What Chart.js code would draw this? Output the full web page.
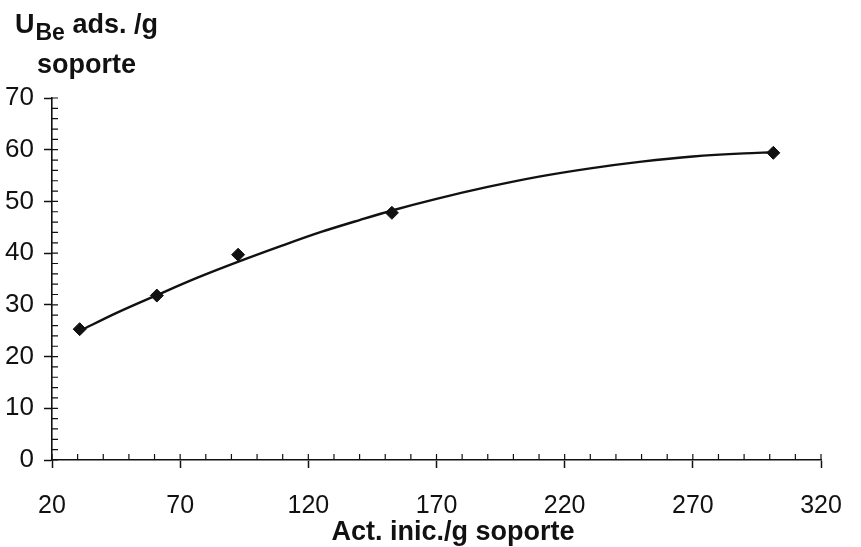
<!DOCTYPE html>
<html>
<head>
<meta charset="utf-8">
<script src="https://cdn.jsdelivr.net/npm/chart.js@4.4.1/dist/chart.umd.min.js"></script>
<style>
    html, body { margin: 0; padding: 0; background: #fff; }
    #chart { display: block; }
</style>
</head>
<body>
<canvas id="chart" width="861" height="547"></canvas>
<script>
// measured points (Act. inic./g soporte vs U_Be ads./g soporte)
const pointX = [30.8, 60.9, 92.6, 152.6, 301.4];
const pointY = [25.3, 31.8, 39.7, 47.8, 59.4];

// trend line
const curveX = [31, 45, 61, 77, 93, 110, 125, 140, 153, 170, 190, 210, 230, 250, 270, 290, 301];
const curveY = [25.0, 28.4, 31.9, 35.3, 38.4, 41.5, 44.1, 46.4, 48.3, 50.5, 52.8, 54.8, 56.4, 57.7, 58.7, 59.3, 59.5];

const xTicks = [20, 70, 120, 170, 220, 270, 320];
const yTicks = [0, 10, 20, 30, 40, 50, 60, 70];

const FONT = '"Liberation Sans", Arial, sans-serif';
const INK = '#111';

const minorTicks = {
    id: 'minorTicks',
    afterDraw(chart) {
        const ctx = chart.ctx;
        const xs = chart.scales.x, ys = chart.scales.y;
        const x0 = xs.left, y0 = ys.bottom;
        ctx.save();
        ctx.strokeStyle = INK;
        ctx.lineWidth = 1.2;
        ctx.beginPath();
        for (let v = 0; v <= 70; v += 2) {
            const py = ys.getPixelForValue(v);
            ctx.moveTo(x0, py);
            ctx.lineTo(x0 + 6, py);
        }
        for (let v = 20; v <= 320; v += 10) {
            const px = xs.getPixelForValue(v);
            ctx.moveTo(px, y0);
            ctx.lineTo(px, y0 - 6);
        }
        ctx.stroke();

        ctx.fillStyle = INK;
        ctx.textBaseline = 'alphabetic';

        // y axis title with subscript
        ctx.font = 'bold 27px ' + FONT;
        ctx.fillText('U', 15, 33);
        let w = ctx.measureText('U').width;
        ctx.font = 'bold 23px ' + FONT;
        ctx.fillText('Be', 15 + w + 1, 40);
        w += ctx.measureText('Be').width + 1;
        ctx.font = 'bold 27px ' + FONT;
        ctx.fillText(' ads. /g', 15 + w, 33);
        ctx.fillText('soporte', 37, 73);

        // x axis title, sits right of centre in the original
        ctx.textAlign = 'center';
        ctx.font = 'bold 27px ' + FONT;
        ctx.fillText('Act. inic./g soporte', 453, 540);
        ctx.restore();
    }
};

new Chart(document.getElementById('chart'), {
    type: 'scatter',
    data: {
        datasets: [
            {
                label: 'ajuste',
                data: curveX.map((x, i) => ({ x: x, y: curveY[i] })),
                showLine: true,
                borderColor: INK,
                borderWidth: 2.4,
                pointRadius: 0,
                cubicInterpolationMode: 'monotone'
            },
            {
                label: 'U ads.',
                data: pointX.map((x, i) => ({ x: x, y: pointY[i] })),
                pointStyle: 'rectRot',
                pointRadius: 6.5,
                backgroundColor: INK,
                borderColor: INK
            }
        ]
    },
    options: {
        responsive: false,
        animation: false,
        layout: { padding: { top: 98, right: 40, left: 0, bottom: 0 } },
        plugins: { legend: { display: false }, tooltip: { enabled: false } },
        scales: {
            x: {
                type: 'linear',
                min: 20, max: 320,
                afterBuildTicks: s => { s.ticks = xTicks.map(v => ({ value: v })); },
                afterFit: s => { s.height = 87; s.paddingRight = 0; s.paddingLeft = 0; },
                ticks: { color: INK, font: { family: FONT, size: 25 }, padding: 23, maxRotation: 0 },
                grid: { drawOnChartArea: false, drawTicks: true, tickLength: 8, color: INK, tickWidth: 1.5 },
                border: { display: true, color: INK, width: 1.6 }
            },
            y: {
                min: 0, max: 70,
                afterBuildTicks: s => { s.ticks = yTicks.map(v => ({ value: v })); },
                afterFit: s => { s.width = 52; s.paddingTop = 0; s.paddingBottom = 0; },
                ticks: { color: INK, font: { family: FONT, size: 26 }, padding: 10 },
                grid: { drawOnChartArea: false, drawTicks: true, tickLength: 8, color: INK, tickWidth: 1.5 },
                border: { display: true, color: INK, width: 1.6 }
            }
        }
    },
    plugins: [minorTicks]
});
</script>
</body>
</html>
